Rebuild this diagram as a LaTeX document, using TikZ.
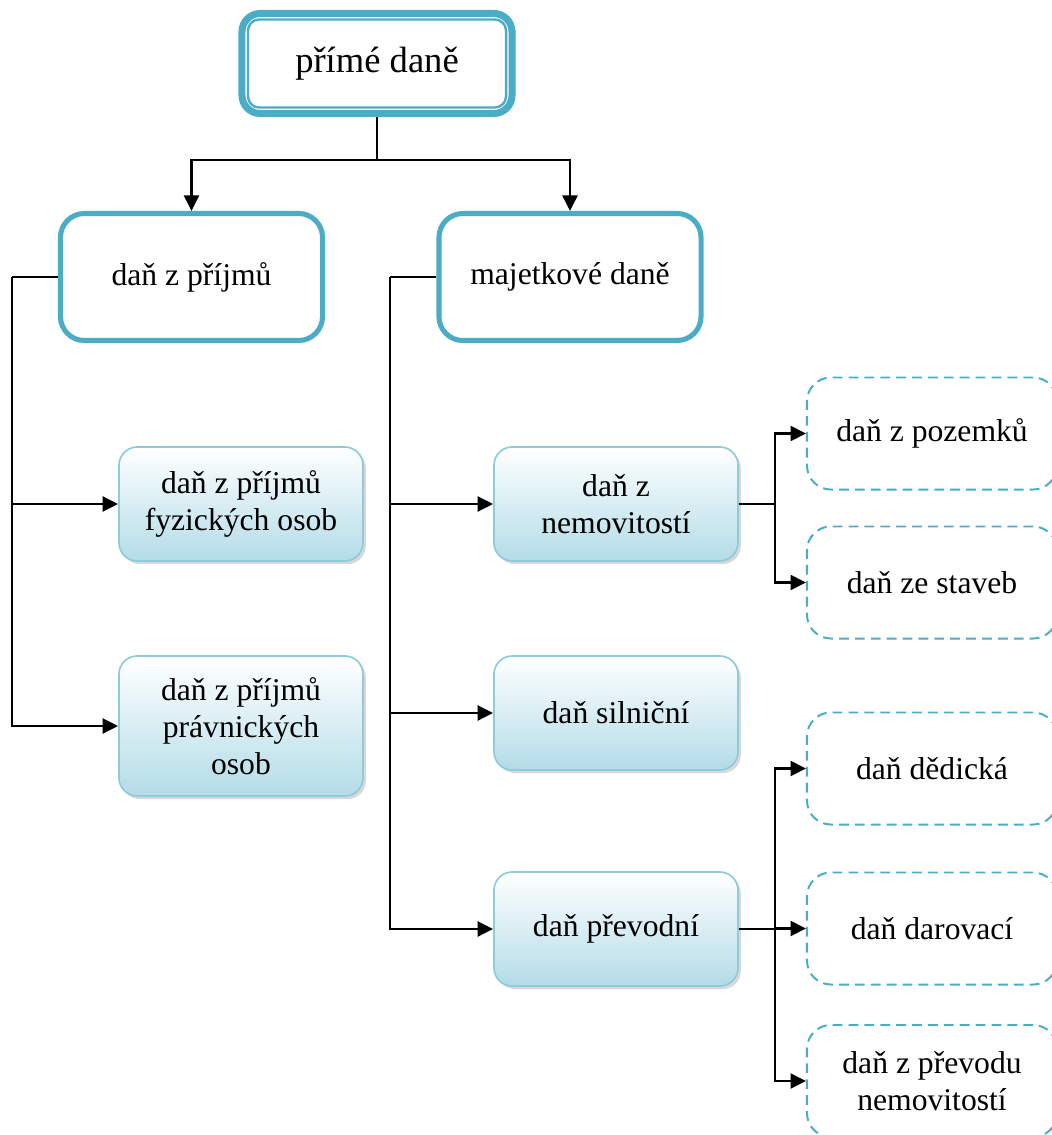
\documentclass[tikz,border=0pt]{standalone}
\usepackage{fontspec}
\setmainfont{Liberation Serif}
\usetikzlibrary{arrows.meta,shadows}
\definecolor{aqua}{HTML}{4BACC6}
\definecolor{lightaqua}{HTML}{8FCBDB}
\definecolor{paleaqua}{HTML}{B3DCE7}
\tikzset{
	txt/.style={align=center, font=\fontsize{22.5}{26.5}\selectfont},
	topbox/.style={draw=aqua, line width=5pt, rounded corners=13pt, fill=white,
			minimum width=6.75cm, minimum height=2.5cm, txt, font=\fontsize{26}{30}\selectfont},
	mainbox/.style={draw=aqua, line width=3.6pt, rounded corners=17pt, fill=white,
			minimum width=6.55cm, minimum height=3.175cm, txt},
	subbox/.style={draw=lightaqua, line width=1.2pt, rounded corners=13pt,
			top color=white, bottom color=paleaqua,
			drop shadow={shadow xshift=2pt, shadow yshift=-2.2pt, fill=black!30},
			minimum width=6.1cm, minimum height=2.85cm, txt},
	leafbox/.style={draw=aqua, line width=1.4pt, dash pattern=on 7pt off 4.3pt,
			rounded corners=17pt, minimum width=6.25cm, minimum height=2.8cm, txt},
	conn/.style={line width=2.1pt},
}
\begin{document}
\begin{tikzpicture}[x=0.025cm, y=-0.025cm, >={Triangle[length=11pt,width=10.5pt]}]
	\useasboundingbox (0,0) rectangle (1051,1135);
	% top level
	\node[topbox] (prime) at (377,63.5) {přímé daně};
	\draw[aqua, line width=1.7pt, rounded corners=8pt]
		([shift={(9.5,9.5)}]prime.north west) rectangle ([shift={(-9.5,-9.5)}]prime.south east);

	% second level
	\node[mainbox] (prijmy) at (191.5,277) {daň z příjmů};
	\node[mainbox] (majetek) at (570,277) {majetkové daně};

	\draw[conn] (prime.south) -- (377,160) coordinate (split);
	\draw[conn, ->] (split) -| (prijmy.north);
	\draw[conn, ->] (split) -| (majetek.north);

	% income taxes
	\node[subbox] (fyzicke) at (241,504) {daň z příjmů\\fyzických osob};
	\node[subbox, minimum height=3.5cm] (pravnicke) at (241,726) {daň z příjmů\\právnických\\osob};

	\coordinate (trunkL) at (12,277);
	\draw[conn] (prijmy.west) -- (trunkL);
	\draw[conn, ->] (trunkL) |- (fyzicke.west);
	\draw[conn, ->] (trunkL) |- (pravnicke.west);

	% property taxes
	\node[subbox] (nemovitosti) at (616,504) {daň z\\nemovitostí};
	\node[subbox] (silnicni) at (616,713) {daň silniční};
	\node[subbox] (prevodni) at (616,929) {daň převodní};

	\coordinate (trunkM) at (390,277);
	\draw[conn] (majetek.west) -- (trunkM);
	\foreach \n in {nemovitosti, silnicni, prevodni}
		\draw[conn, ->] (trunkM) |- (\n.west);

	% third level
	\node[leafbox] (pozemky) at (932,433.5) {daň z pozemků};
	\node[leafbox] (stavby) at (932,582.5) {daň ze staveb};
	\node[leafbox] (dedicka) at (932,768.5) {daň dědická};
	\node[leafbox] (darovaci) at (932,928.5) {daň darovací};
	\node[leafbox] (prevod) at (932,1081) {daň z převodu\\nemovitostí};

	\draw[conn] (nemovitosti.east) -- (775,504) coordinate (branchN);
	\draw[conn, ->] (branchN) |- (pozemky.west);
	\draw[conn, ->] (branchN) |- (stavby.west);

	\draw[conn] (prevodni.east) -- (775,929) coordinate (branchP);
	\foreach \n in {dedicka, darovaci, prevod}
		\draw[conn, ->] (branchP) |- (\n.west);
\end{tikzpicture}
\end{document}
